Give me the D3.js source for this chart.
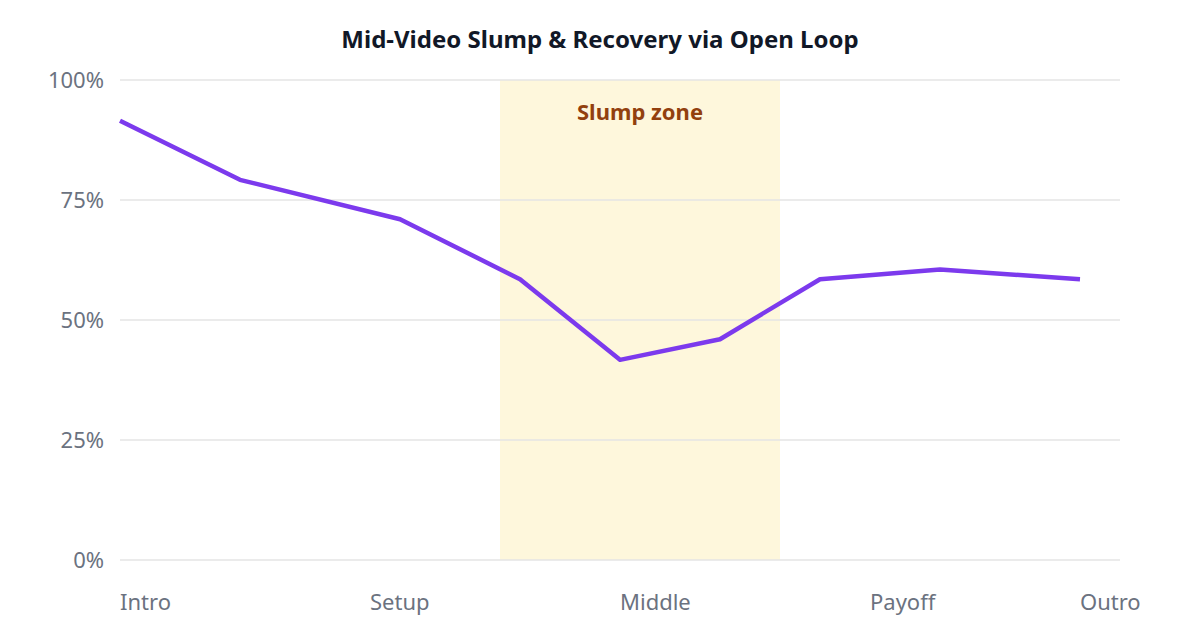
<!DOCTYPE html>
<html>
<head>
<meta charset="utf-8">
<script src="https://cdn.jsdelivr.net/npm/d3@7"></script>
<style>
  body { margin: 0; background: #fff; }
  svg { display: block; font-family: 'Noto Sans', 'Open Sans', sans-serif; }
</style>
</head>
<body>
<div class="chart"></div>
<script>
'use strict';

// position along the video (0-100) and retention (%)
var positions = [0, 12, 28, 40, 50, 60, 70, 82, 96];
var retention = [91.5, 79.2, 71, 58.5, 41.7, 46, 58.5, 60.5, 58.5];

var sectionLabels = ['Intro', 'Setup', 'Middle', 'Payoff', 'Outro'];
var sectionTicks = [0, 25, 50, 75, 96];

var yTicks = [0, 25, 50, 75, 100];
var slumpZone = [38, 66];

var WIDTH = 1200, HEIGHT = 640;
var margin = { top: 80, right: 80, bottom: 80, left: 120 };

var svg = d3.select('.chart').append('svg')
  .attr('width', WIDTH)
  .attr('height', HEIGHT);

var x = d3.scaleLinear().domain([0, 100]).range([margin.left, WIDTH - margin.right]);
var y = d3.scaleLinear().domain([0, 100]).range([HEIGHT - margin.bottom, margin.top]);

// title
svg.append('text')
  .attr('x', WIDTH / 2)
  .attr('y', 48)
  .attr('text-anchor', 'middle')
  .style('font-size', '24px')
  .style('font-weight', 700)
  .style('fill', '#111827')
  .text('Mid-Video Slump & Recovery via Open Loop');

// slump zone band
svg.append('rect')
  .attr('x', x(slumpZone[0]))
  .attr('y', y(100))
  .attr('width', x(slumpZone[1]) - x(slumpZone[0]))
  .attr('height', y(0) - y(100))
  .style('fill', '#fef7dc');

// gridlines
svg.append('g')
  .selectAll('line')
  .data(yTicks)
  .enter()
  .append('line')
  .attr('x1', x(0))
  .attr('x2', x(100))
  .attr('y1', function(d) { return y(d); })
  .attr('y2', function(d) { return y(d); })
  .style('stroke', '#e5e5e5')
  .style('stroke-width', 1.5);

svg.append('text')
  .attr('x', (x(slumpZone[0]) + x(slumpZone[1])) / 2)
  .attr('y', 120)
  .attr('text-anchor', 'middle')
  .style('font-size', '22px')
  .style('font-weight', 700)
  .style('fill', '#92400e')
  .text('Slump zone');

// y axis labels
svg.append('g')
  .selectAll('text')
  .data(yTicks)
  .enter()
  .append('text')
  .attr('x', margin.left - 16)
  .attr('y', function(d) { return y(d); })
  .attr('dy', '0.35em')
  .attr('text-anchor', 'end')
  .style('font-size', '22px')
  .style('fill', '#6b7280')
  .text(function(d) { return d + '%'; });

// x axis labels
svg.append('g')
  .selectAll('text')
  .data(sectionLabels)
  .enter()
  .append('text')
  .attr('x', function(d, i) { return x(sectionTicks[i]); })
  .attr('y', 610)
  .attr('text-anchor', 'start')
  .style('font-size', '22px')
  .style('fill', '#6b7280')
  .text(function(d) { return d; });

// retention line
var line = d3.line()
  .x(function(d, i) { return x(positions[i]); })
  .y(function(d) { return y(d); });

svg.append('path')
  .datum(retention)
  .attr('d', line)
  .style('fill', 'none')
  .style('stroke', '#7c3aed')
  .style('stroke-width', 4.5)
  .style('stroke-linejoin', 'round');
</script>
</body>
</html>
